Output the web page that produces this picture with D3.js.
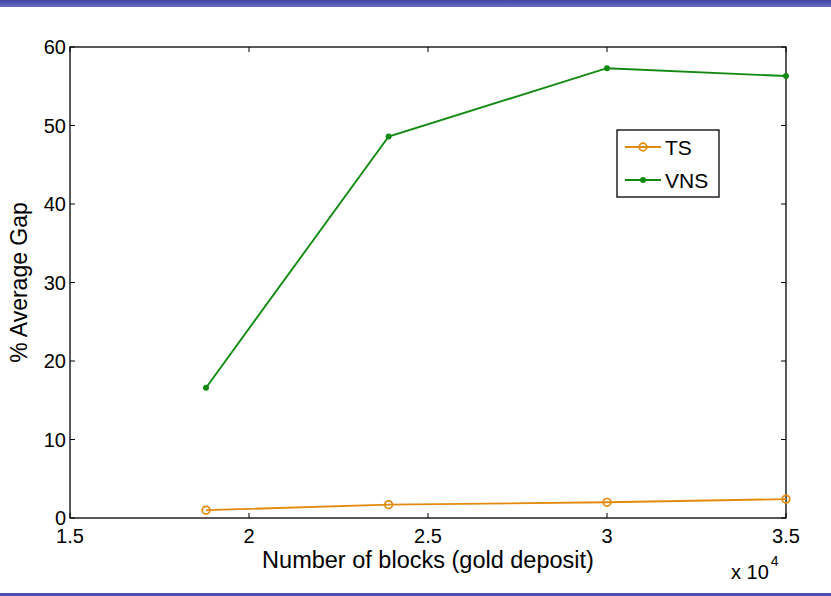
<!DOCTYPE html>
<html>
<head>
<meta charset="utf-8">
<script src="https://cdn.jsdelivr.net/npm/d3@7"></script>
<style>
  html, body { margin: 0; padding: 0; background: #fff; }
  svg { display: block; font-family: "Liberation Sans", Arial, sans-serif; }
</style>
</head>
<body>
<svg id="chart" width="831" height="596"></svg>
<script>
// Number of blocks (x 10^4)
const blocks = [1.88, 2.39, 3.0, 3.5];
// % average gap per method
const tsGap = [1.0, 1.7, 2.0, 2.4];
const vnsGap = [16.6, 48.6, 57.3, 56.3];
const seriesNames = ["TS", "VNS"];
const xTicks = [1.5, 2, 2.5, 3, 3.5];
const yTicks = [0, 10, 20, 30, 40, 50, 60];

const svg = d3.select("#chart");
const W = 831, H = 596;
const m = { left: 70, right: 45, top: 47, bottom: 78 };

// slide frame bars
const defs = svg.append("defs");
const g1 = defs.append("linearGradient").attr("id", "barTop").attr("x1", 0).attr("x2", 0).attr("y1", 0).attr("y2", 1);
g1.append("stop").attr("offset", "0%").attr("stop-color", "#3f44a6");
g1.append("stop").attr("offset", "100%").attr("stop-color", "#6a70c4");
svg.append("rect").attr("x", 0).attr("y", 0).attr("width", W).attr("height", 7).attr("fill", "url(#barTop)");
svg.append("rect").attr("x", 0).attr("y", 593).attr("width", W).attr("height", 3).attr("fill", "#4a50ae");

const x = d3.scaleLinear().domain([1.5, 3.5]).range([m.left, W - m.right]);
const y = d3.scaleLinear().domain([0, 60]).range([H - m.bottom, m.top]);

const x0 = x.range()[0], x1 = x.range()[1], y0 = y.range()[0], y1 = y.range()[1];
const tk = 5;

// tick marks on all four sides, pointing inward
const axes = svg.append("g").attr("stroke", "#000").attr("stroke-width", 1);
xTicks.forEach(t => {
  axes.append("line").attr("x1", x(t)).attr("x2", x(t)).attr("y1", y0).attr("y2", y0 - tk);
  axes.append("line").attr("x1", x(t)).attr("x2", x(t)).attr("y1", y1).attr("y2", y1 + tk);
});
yTicks.forEach(t => {
  axes.append("line").attr("x1", x0).attr("x2", x0 + tk).attr("y1", y(t)).attr("y2", y(t));
  axes.append("line").attr("x1", x1).attr("x2", x1 - tk).attr("y1", y(t)).attr("y2", y(t));
});
svg.append("rect").attr("x", x0).attr("y", y1).attr("width", x1 - x0).attr("height", y0 - y1)
  .attr("fill", "none").attr("stroke", "#000").attr("stroke-width", 1.3);

// tick labels
const fmt = d3.format("");
svg.append("g").selectAll("text").data(xTicks).join("text")
  .attr("x", d => x(d)).attr("y", y0 + 25).attr("text-anchor", "middle")
  .attr("font-size", 20).text(d => fmt(d));
svg.append("g").selectAll("text").data(yTicks).join("text")
  .attr("x", x0 - 4).attr("y", d => y(d) + 7).attr("text-anchor", "end")
  .attr("font-size", 20).text(d => fmt(d));

// axis titles
svg.append("text").attr("x", (x0 + x1) / 2).attr("y", y0 + 50).attr("text-anchor", "middle")
  .attr("font-size", 23.5).text("Number of blocks (gold deposit)");
svg.append("text").attr("transform", `translate(27,${(y0 + y1) / 2}) rotate(-90)`)
  .attr("text-anchor", "middle").attr("font-size", 23).text("% Average Gap");
const mult = svg.append("text").attr("x", 731).attr("y", 579).attr("font-size", 20);
mult.append("tspan").text("x 10");
mult.append("tspan").attr("dy", -13).attr("dx", 2).attr("font-size", 14).text("4");

// series
const colors = { TS: "#e38a0e", VNS: "#128a12" };
const line = d3.line().x(d => x(d[0])).y(d => y(d[1]));
const tsPts = blocks.map((b, i) => [b, tsGap[i]]);
const vnsPts = blocks.map((b, i) => [b, vnsGap[i]]);

svg.append("path").datum(tsPts).attr("d", line).attr("fill", "none")
  .attr("stroke", colors.TS).attr("stroke-width", 1.9);
svg.append("g").selectAll("circle").data(tsPts).join("circle")
  .attr("cx", d => x(d[0])).attr("cy", d => y(d[1])).attr("r", 3.8)
  .attr("fill", "none").attr("stroke", colors.TS).attr("stroke-width", 1.7);

svg.append("path").datum(vnsPts).attr("d", line).attr("fill", "none")
  .attr("stroke", colors.VNS).attr("stroke-width", 1.9);
svg.append("g").selectAll("path").data(vnsPts).join("path")
  .attr("d", d3.symbol(d3.symbolCircle, 28))
  .attr("transform", d => `translate(${x(d[0])},${y(d[1])})`)
  .attr("fill", colors.VNS);

// legend
const lg = svg.append("g");
lg.append("rect").attr("x", 617).attr("y", 130).attr("width", 102).attr("height", 67)
  .attr("fill", "#fff").attr("stroke", "#000").attr("stroke-width", 1.3);
seriesNames.forEach((name, i) => {
  const ly = 147 + i * 33;
  lg.append("line").attr("x1", 625).attr("x2", 661).attr("y1", ly).attr("y2", ly)
    .attr("stroke", colors[name]).attr("stroke-width", 1.9);
  if (name === "TS") {
    lg.append("circle").attr("cx", 643).attr("cy", ly).attr("r", 3.8)
      .attr("fill", "none").attr("stroke", colors[name]).attr("stroke-width", 1.7);
  } else {
    lg.append("path").attr("d", d3.symbol(d3.symbolCircle, 28)())
      .attr("transform", `translate(643,${ly})`).attr("fill", colors[name]);
  }
  lg.append("text").attr("x", 665).attr("y", ly + 8).attr("font-size", 21).text(name);
});
</script>
</body>
</html>
